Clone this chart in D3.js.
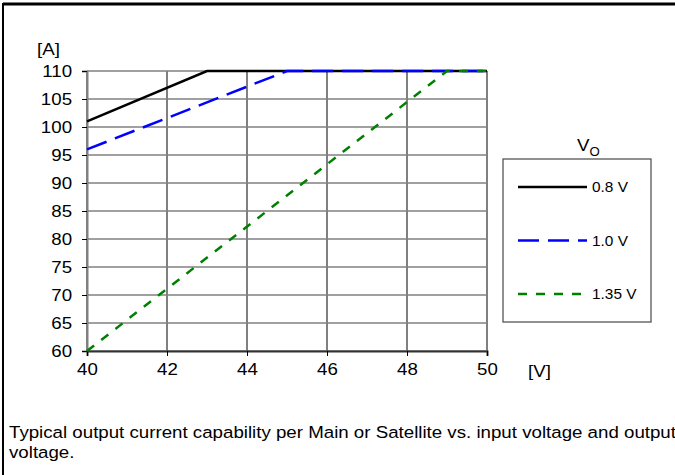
<!DOCTYPE html>
<html><head><meta charset="utf-8">
<script src="https://cdn.jsdelivr.net/npm/d3@7"></script>
<style>body{margin:0;background:#fff}svg{display:block}text{font-family:"Liberation Sans",Arial,sans-serif;fill:#000}</style>
</head><body><div id="c"></div>
<script>
const xTicks=[40,42,44,46,48,50];
const yTicks=[60,65,70,75,80,85,90,95,100,105,110];
const seriesNames=["0.8 V","1.0 V","1.35 V"];
const seriesColors=["#000000","#0000ff","#008000"];
const seriesDash=[null,"21,9","9,9"];
const s08=[[40,101],[43,110],[50,110]];
const s10=[[40,96],[45,110],[50,110]];
const s135=[[40,60],[49,110],[50,110]];
const seriesData=[s08,s10,s135];
const captionLines=["Typical output current capability per Main or Satellite vs. input voltage and output","voltage."];

const W=675,H=475,SX=1.1;
const svg=d3.select("#c").append("svg").attr("width",W).attr("height",H);
function T(x,y,str,size,anchor){return svg.append("text").attr("transform",`translate(${x},${y}) scale(${SX},1)`).attr("font-size",size).attr("text-anchor",anchor||"start").text(str);}
// outer frame (top and left)
svg.append("line").attr("x1",3).attr("x2",W).attr("y1",4).attr("y2",4).attr("stroke","#000").attr("stroke-width",3);
svg.append("line").attr("x1",3).attr("x2",3).attr("y1",3).attr("y2",H).attr("stroke","#000").attr("stroke-width",2);

const x=d3.scaleLinear().domain([40,50]).range([87,487]);
const y=d3.scaleLinear().domain([60,110]).range([351,71]);
const fs=17;
// grid
svg.append("g").selectAll("line").data(yTicks).join("line")
 .attr("x1",x(40)).attr("x2",x(50)).attr("y1",d=>y(d)).attr("y2",d=>y(d)).attr("stroke","#808080").attr("stroke-width",1.3);
svg.append("g").selectAll("line").data(xTicks).join("line")
 .attr("x1",d=>x(d)).attr("x2",d=>x(d)).attr("y1",y(60)).attr("y2",y(110)).attr("stroke","#808080").attr("stroke-width",2);
// axes
const gy=svg.append("g").attr("transform",`translate(${x(40)},0)`).call(d3.axisLeft(y).tickValues(yTicks).tickSize(5).tickPadding(8.6));
const gx=svg.append("g").attr("transform",`translate(0,${y(60)})`).call(d3.axisBottom(x).tickValues(xTicks).tickSize(5).tickPadding(7));
[gx,gy].forEach(g=>{g.select(".domain").attr("stroke-width",2);g.selectAll(".tick line").attr("stroke","#000");g.selectAll("text").attr("font-size",fs).attr("font-family","Liberation Sans, Arial, sans-serif").attr("transform",`scale(${SX},1)`);});
gy.select(".domain").attr("stroke","#808080");
gx.select(".domain").attr("stroke","#333");
T(37,55,"[A]",17);
T(528,377,"[V]",17);
// series
const line=d3.line().x(d=>x(d[0])).y(d=>y(d[1]));
seriesData.forEach((s,i)=>{
 svg.append("path").datum(s).attr("d",line).attr("fill","none").attr("stroke",seriesColors[i]).attr("stroke-width",2.5).attr("stroke-dasharray",seriesDash[i]);
});
// legend
svg.append("rect").attr("x",503).attr("y",159).attr("width",148).attr("height",163).attr("fill","#fff").attr("stroke","#555").attr("stroke-width",1.3);
const vt=T(577,151,"",17);
vt.append("tspan").text("V");vt.append("tspan").attr("font-size",12).attr("dy",5).text("O");
seriesNames.forEach((n,i)=>{
 const ly=187+i*53.5;
 svg.append("line").attr("x1",518).attr("x2",587).attr("y1",ly).attr("y2",ly).attr("stroke",seriesColors[i]).attr("stroke-width",2.5).attr("stroke-dasharray",seriesDash[i]);
 T(592,ly+5,n,14);
});
// caption
captionLines.forEach((t,i)=>T(9,438+i*20,t,17));
</script></body></html>
